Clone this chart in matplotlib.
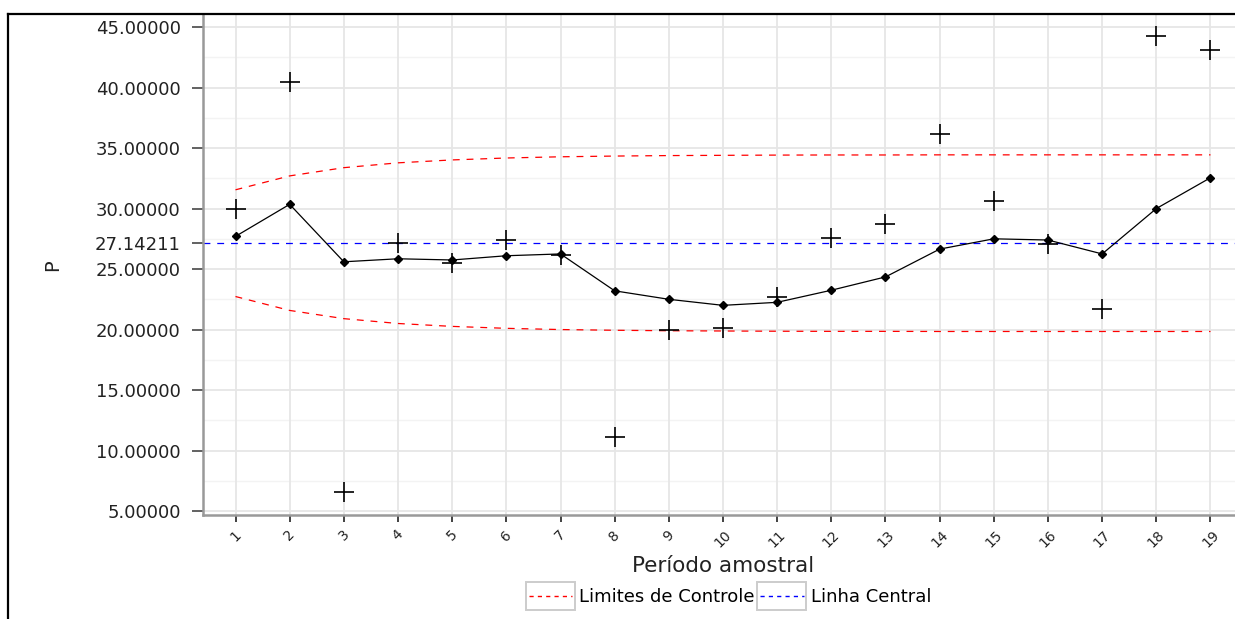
import matplotlib
matplotlib.use("Agg")
import matplotlib.pyplot as plt
from matplotlib.legend_handler import HandlerLine2D
from matplotlib.patches import Rectangle
from matplotlib.lines import Line2D

# Sample periods and observed values
periods = list(range(1, 20))
observations = [30.0, 40.45, 6.57, 27.15, 25.5, 27.4, 26.2, 11.1, 19.95, 20.1,
                22.7, 27.55, 28.7, 36.15, 30.6, 27.1, 21.7, 44.3, 43.1]
# Smoothed statistic plotted per period
ewma = [27.7, 30.35, 25.6, 25.85, 25.75, 26.1, 26.25, 23.2, 22.5, 22.0,
        22.25, 23.25, 24.35, 26.65, 27.5, 27.4, 26.25, 30.0, 32.55]
# Control limits
ucl = [31.55, 32.70, 33.38, 33.78, 34.02, 34.18, 34.28, 34.34, 34.38, 34.40,
       34.42, 34.43, 34.43, 34.44, 34.44, 34.44, 34.44, 34.44, 34.44]
lcl = [22.73, 21.58, 20.90, 20.50, 20.26, 20.10, 20.00, 19.94, 19.90, 19.88,
       19.86, 19.85, 19.85, 19.84, 19.84, 19.84, 19.84, 19.84, 19.84]
center = 27.14211
y_ticks = [5, 10, 15, 20, 25, 30, 35, 40, 45]

W, H = 1235, 619
fig = plt.figure(figsize=(W / 100, H / 100), dpi=100)
fig.patch.set_facecolor("white")
ax = fig.add_axes([203 / W, 104 / H, 1040 / W, 500 / H])
ax.set_xlim(0.4, 19.6)
ax.set_ylim(4.67, 46.0)

# Grid lines
for v in y_ticks:
    ax.axhline(v, color="#E6E6E6", lw=1.3, zorder=0)
    ax.axhline(v + 2.5, color="#F3F3F3", lw=1.0, zorder=0)
for p in periods:
    ax.axvline(p, color="#E6E6E6", lw=1.3, zorder=0)

# Control limits and center line
ax.plot(periods, ucl, color="red", lw=0.9, dashes=(5.5, 5.5), zorder=2)
ax.plot(periods, lcl, color="red", lw=0.9, dashes=(5.5, 5.5), zorder=2)
ax.axhline(center, color="blue", lw=0.9, dashes=(5.5, 5.5), zorder=2)

# Smoothed series and raw observations
ax.plot(periods, ewma, color="black", lw=0.9, marker="D", markersize=4.5, zorder=3)
ax.plot(periods, observations, ls="none", marker="+", color="black",
        markersize=14, mew=1.2, zorder=4)

# Axes styling
yt = sorted(y_ticks + [center])
ax.set_yticks(yt)
ax.set_yticklabels([f"{v:.5f}" for v in yt], fontsize=13, color="#222222")
ax.set_xticks(periods)
ax.set_xticklabels([str(p) for p in periods], rotation=45, ha="center",
                   fontsize=10, color="#222222")
ax.tick_params(axis="y", length=8, width=1.3, color="#555555", pad=8)
ax.tick_params(axis="x", length=5, width=1.3, color="#333333", pad=4)
for s in ("top", "right"):
    ax.spines[s].set_visible(False)
for s in ("left", "bottom"):
    ax.spines[s].set_color("#999999")
    ax.spines[s].set_linewidth(1.8)

ax.set_xlabel("Período amostral", fontsize=15.5, color="#222222", labelpad=4)
ax.set_ylabel("P", fontsize=14, color="#222222")
ax.yaxis.set_label_coords((62 - 203) / 1040, 0.5)


class BoxedLine(HandlerLine2D):
    def create_artists(self, legend, orig_handle, xdescent, ydescent,
                       width, height, fontsize, trans):
        arts = super().create_artists(legend, orig_handle, xdescent, ydescent,
                                      width, height, fontsize, trans)
        pad_y = height * 0.6
        box = Rectangle((-xdescent - 2, -ydescent - pad_y), width + 4,
                        height + 2 * pad_y, fill=False, ec="#CCCCCC", lw=1.4,
                        transform=trans)
        return [box] + arts


handles = [Line2D([], [], color="red", lw=1, dashes=(3, 3)),
           Line2D([], [], color="blue", lw=1, dashes=(3, 3))]
leg = fig.legend(handles, ["Limites de Controle", "Linha Central"],
                 loc="center", bbox_to_anchor=(730 / W, 1 - 597 / H), ncol=2,
                 frameon=False, fontsize=13, handlelength=2.4, handletextpad=0.4,
                 columnspacing=0.3,
                 handler_map={Line2D: BoxedLine()})

# Outer frame
fig.add_artist(Line2D([8 / W, 8 / W], [0, 1 - 14 / H], transform=fig.transFigure,
                      color="black", lw=1.6))
fig.add_artist(Line2D([8 / W, 1], [1 - 14 / H, 1 - 14 / H], transform=fig.transFigure,
                      color="black", lw=1.6))

fig.savefig("out.png", dpi=100)
